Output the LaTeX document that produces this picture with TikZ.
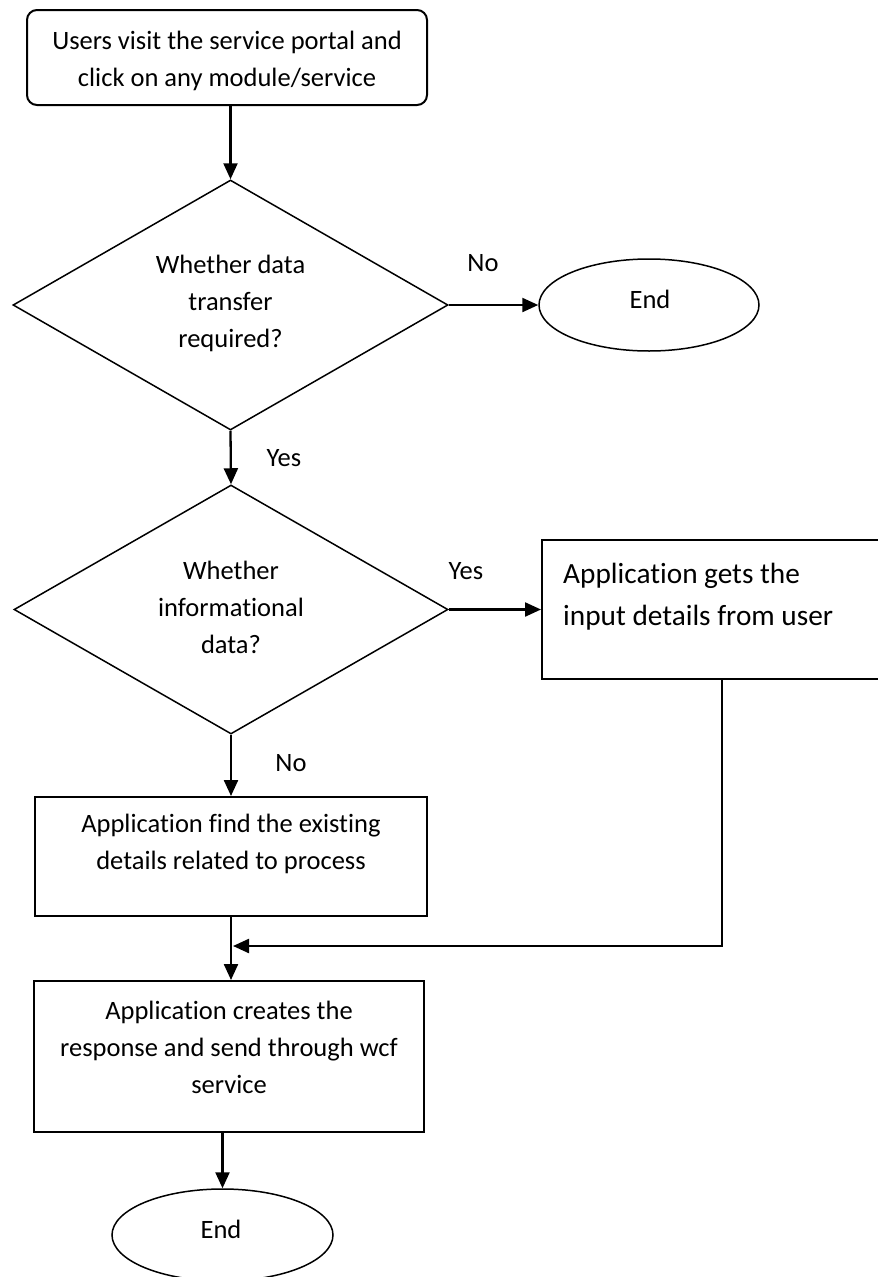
\documentclass[tikz,border=0pt]{standalone}
\usepackage{fontspec}
\setmainfont{Carlito}[Ligatures=NoCommon]
\usetikzlibrary{shapes.geometric,arrows.meta}
\begin{document}
\begin{tikzpicture}[x=1pt,y=-1pt,
  base/.style={font=\fontsize{26.5}{37}\selectfont},
  big/.style={font=\fontsize{29.3}{42}\selectfont},
  procbox/.style={draw=black,line width=2pt,rectangle,inner sep=0pt},
  decision/.style={draw=black,line width=1.5pt,diamond,inner sep=0pt},
  terminal/.style={draw=black,line width=1.5pt,ellipse,inner sep=0pt},
  txt/.style={base,align=center,inner sep=0pt},
  lbl/.style={base,inner sep=0pt},
  flow/.style={line width=2.3pt,-{Triangle[length=16pt,width=14pt]}},
]
\useasboundingbox (0,0) rectangle (878,1277);

% shapes
\node[procbox,rounded corners=10pt,minimum width=400pt,minimum height=95pt] (start) at (227,57.5) {};
\node[decision,minimum width=435pt,minimum height=250pt] (d1) at (230.5,305) {};
\node[terminal,minimum width=220pt,minimum height=92pt] (end1) at (649,305) {};
\node[decision,minimum width=434pt,minimum height=249pt] (d2) at (231,609.5) {};
\node[procbox,minimum width=360pt,minimum height=139pt] (rbox) at (722,609.5) {};
\node[procbox,minimum width=392pt,minimum height=119pt] (box3) at (231,856.5) {};
\node[procbox,minimum width=390pt,minimum height=151pt] (box4) at (229,1056.5) {};
\node[terminal,minimum width=221pt,minimum height=92pt] (end2) at (222.5,1235) {};

% texts
\node[txt] (starttext) at (227,60.5) {Users visit the service portal and\\click on any module/service};
\node[txt] (d1text) at (230.5,303) {Whether data\\transfer\\required?};
\node[lbl] (end1text) at (650,299) {End};
\node[txt] (d2text) at (231,607) {Whether\\informational\\data?};
\node[big,align=left,inner sep=0pt,anchor=west] (rboxtext) at (563,597) {Application gets the\\input details from user};
\node[txt] (box3text) at (231,844) {Application find the existing\\details related to process};
\node[txt] (box4text) at (229,1047) {Application creates the\\response and send through wcf\\service};
\node[lbl] (end2text) at (221,1229.5) {End};

% branch labels
\node[lbl] (no1) at (483,263) {No};
\node[lbl] (yes1) at (284,458) {Yes};
\node[lbl] (yes2) at (466,571) {Yes};
\node[lbl] (no2) at (291,763) {No};

% connectors
\coordinate (merge) at (233,946);
\draw[flow] (d1.north |- start.south) -- (d1.north);
\draw[flow] (d1.east) -- (end1.west);
\draw[flow] (d1.south) -- (d2.north);
\draw[flow] (d2.east) -- (rbox.west);
\draw[flow] (d2.south) -- (box3.north);
\draw[flow] (box3.south) -- (box3.south |- box4.north);
\draw[flow] (rbox.south) |- (merge);
\draw[flow] (end2.north |- box4.south) -- (end2.north);
\end{tikzpicture}
\end{document}
